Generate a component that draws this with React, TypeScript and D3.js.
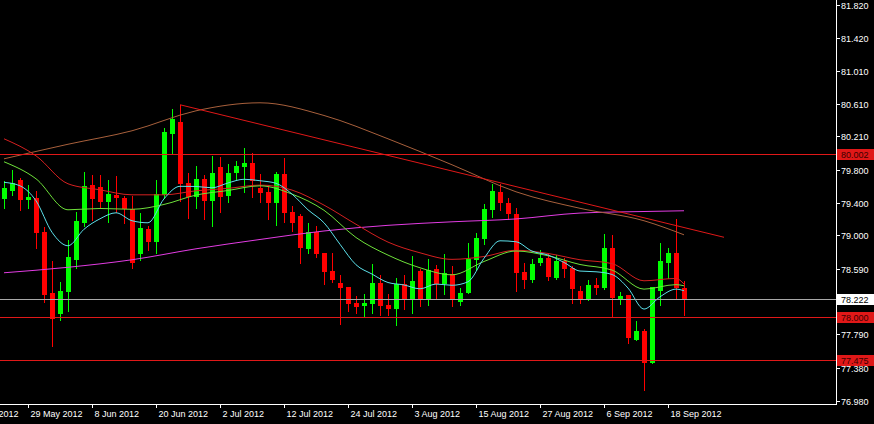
import React, { useEffect, useRef } from 'react';
import * as d3 from 'd3';

// daily bars, weekdays only, first bar on this day
const firstDay = '24 May 2012';

const open = [
  79.448, 79.546, 79.681, 79.436, 79.461, 79.045, 78.299, 78.043, 78.312, 78.703,
  79.155, 79.620, 79.595, 79.412, 79.497, 79.461, 79.326, 78.776, 79.082, 78.923,
  79.497, 80.243, 80.390, 79.644, 79.473, 79.693, 79.424, 79.840, 79.485, 79.766,
  79.840, 79.889, 79.583, 79.534, 79.400, 79.754, 79.290, 79.241, 78.837, 79.045,
  78.788, 78.568, 78.422, 78.373, 78.177, 78.140, 78.165, 78.422, 78.153, 78.104,
  78.409, 78.214, 78.568, 78.214, 78.593, 78.409, 78.532, 78.189, 78.299, 78.703,
  78.959, 79.314, 79.534, 79.400, 79.265, 78.556, 78.458, 78.666, 78.727, 78.483,
  78.691, 78.605, 78.324, 78.226, 78.397, 78.360, 78.849, 78.214, 78.275, 77.725,
  77.835, 77.444, 78.324, 78.666, 78.788, 78.360,
];
const high = [
  79.669, 79.803, 79.705, 79.620, 79.546, 79.106, 78.691, 78.434, 78.947, 79.290,
  79.779, 79.742, 79.742, 79.681, 79.730, 79.485, 79.485, 79.277, 79.118, 79.681,
  80.316, 80.549, 80.598, 79.766, 79.852, 79.742, 79.974, 79.962, 79.876, 79.913,
  80.072, 80.011, 79.754, 79.620, 79.779, 79.950, 79.363, 79.265, 79.155, 79.118,
  78.788, 78.788, 78.519, 78.373, 78.263, 78.287, 78.654, 78.519, 78.287, 78.483,
  78.519, 78.752, 78.593, 78.715, 78.642, 78.776, 78.629, 78.360, 78.911, 79.033,
  79.387, 79.632, 79.632, 79.461, 79.338, 78.666, 78.715, 78.825, 78.776, 78.764,
  78.727, 78.629, 78.385, 78.458, 78.483, 79.021, 79.008, 78.312, 78.275, 77.957,
  77.859, 78.373, 78.911, 78.849, 79.204, 78.446,
];
const low = [
  79.326, 79.485, 79.302, 79.326, 78.837, 78.177, 77.639, 77.957, 78.067, 78.593,
  79.106, 79.180, 79.338, 79.155, 79.277, 79.143, 78.593, 78.691, 78.813, 78.776,
  79.448, 79.999, 79.412, 79.204, 79.326, 79.192, 79.106, 79.277, 79.400, 79.669,
  79.522, 79.461, 79.400, 79.192, 79.118, 79.155, 79.045, 78.654, 78.776, 78.727,
  78.397, 78.422, 77.908, 78.067, 78.043, 77.994, 78.043, 78.018, 78.018, 77.896,
  78.092, 78.043, 78.128, 78.140, 78.226, 78.275, 78.128, 78.140, 78.287, 78.568,
  78.886, 79.216, 79.302, 79.192, 78.312, 78.348, 78.422, 78.629, 78.446, 78.458,
  78.483, 78.165, 78.165, 78.202, 78.275, 78.336, 77.994, 78.153, 77.676, 77.713,
  77.101, 77.431, 78.140, 78.470, 78.226, 78.018,
];
const close = [
  79.583, 79.644, 79.436, 79.473, 79.033, 78.275, 77.981, 78.324, 78.739, 79.180,
  79.607, 79.448, 79.412, 79.510, 79.461, 79.326, 78.666, 79.094, 78.923, 79.510,
  80.268, 80.426, 79.632, 79.473, 79.693, 79.424, 79.766, 79.473, 79.766, 79.852,
  79.889, 79.669, 79.522, 79.400, 79.754, 79.277, 79.155, 78.849, 79.045, 78.776,
  78.556, 78.458, 78.360, 78.165, 78.128, 78.177, 78.422, 78.140, 78.104, 78.409,
  78.214, 78.446, 78.226, 78.580, 78.409, 78.544, 78.226, 78.299, 78.715, 78.972,
  79.326, 79.546, 79.400, 79.265, 78.544, 78.458, 78.654, 78.727, 78.495, 78.691,
  78.593, 78.348, 78.226, 78.397, 78.360, 78.849, 78.238, 78.263, 77.749, 77.835,
  77.444, 78.373, 78.691, 78.788, 78.360, 78.222,
];

// moving averages; the last value always sits on the last bar
const maCyan = [ // every 2 bars
  79.650, 79.607, 79.424, 79.039, 78.874, 79.076, 79.204, 79.277, 79.180, 79.155,
  79.448, 79.601, 79.599, 79.583, 79.642, 79.687, 79.669, 79.638, 79.506, 79.314,
  79.155, 78.892, 78.642, 78.528, 78.425, 78.395, 78.348, 78.406, 78.391, 78.434,
  78.721, 78.935, 78.923, 78.809, 78.761, 78.670, 78.565, 78.556, 78.523, 78.357,
  78.100, 78.250, 78.344, 78.324,
];
const maGreen = [ // every 4 bars
  79.901, 79.693, 79.314, 79.330, 79.320, 79.379, 79.494, 79.550, 79.607, 79.506,
  79.308, 78.975, 78.760, 78.605, 78.519, 78.682, 78.810, 78.752, 78.645, 78.577,
  78.344, 78.399, 78.385,
];
const maRed = [ // every 4 bars
  80.182, 79.974, 79.632, 79.558, 79.497, 79.497, 79.546, 79.576, 79.616, 79.555,
  79.371, 79.137, 78.919, 78.788, 78.708, 78.743, 78.819, 78.780, 78.703, 78.656,
  78.446, 78.475, 78.406,
];
const maBrown = [ // every 8 bars
  79.937, 80.115, 80.280, 80.524, 80.622, 80.467, 80.182, 79.864, 79.534, 79.332,
  79.180, 79.008,
];
const maMagenta = [ // every 8 bars
  78.544, 78.611, 78.703, 78.837, 78.951, 79.055, 79.124, 79.167, 79.202, 79.274,
  79.293, 79.302,
];

const levelLines = [80.002, 78.0, 77.475];
const lastPrice = 78.222;
const priceTicks = [81.82, 81.42, 81.01, 80.61, 80.21, 79.8, 79.4, 79.0, 78.59, 77.79, 77.38, 76.98];
const dateTicks = [
  '17 May 2012', '29 May 2012', '8 Jun 2012', '20 Jun 2012', '2 Jul 2012', '12 Jul 2012',
  '24 Jul 2012', '3 Aug 2012', '15 Aug 2012', '27 Aug 2012', '6 Sep 2012', '18 Sep 2012',
];
const trendPoints = [
  { day: '25 Jun 2012', price: 80.598 },
  { day: '27 Sep 2012', price: 78.978 },
];

const W = 874;
const H = 424;
const FONT = '"Liberation Sans", Arial, sans-serif';

export default function App() {
  const svgRef = useRef<SVGSVGElement>(null);

  useEffect(() => {
    if (!svgRef.current) return;
    document.body.style.margin = '0';
    document.body.style.background = '#000';

    const svg = d3.select(svgRef.current);
    svg.selectAll('*').remove();

    const plotRight = 836;
    const plotBottom = 404;
    const n = close.length;

    const parse = d3.timeParse('%e %b %Y');
    const start = parse(firstDay) as Date;
    // signed count of weekdays from the first bar
    const barIndex = (s: string) => {
      const d = parse(s) as Date;
      const stepDir = d < start ? -1 : 1;
      const t = new Date(start);
      let i = 0;
      while (t.getTime() !== d.getTime()) {
        t.setDate(t.getDate() + stepDir);
        if (t.getDay() % 6 !== 0) i += stepDir;
      }
      return i;
    };

    const x = d3.scaleLinear().domain([0, n - 1]).range([4, 684]);
    const y = d3.scaleLinear().domain([76.98, 81.82]).range([400.7, 4.8]);

    svg.append('rect').attr('width', W).attr('height', H).attr('fill', '#000');

    svg.append('defs').append('clipPath').attr('id', 'plot')
      .append('rect').attr('x', 0).attr('y', 0).attr('width', plotRight).attr('height', plotBottom);

    const plot = svg.append('g').attr('clip-path', 'url(#plot)');

    // candles
    const bars = d3.range(n);
    const bull = '#00ff00';
    const bear = '#ff0000';
    const col = (i: number) => (close[i] >= open[i] ? bull : bear);
    const cg = plot.append('g').attr('shape-rendering', 'crispEdges');
    cg.selectAll('line.wick')
      .data(bars)
      .join('line')
      .attr('class', 'wick')
      .attr('x1', i => Math.round(x(i)) + 0.5)
      .attr('x2', i => Math.round(x(i)) + 0.5)
      .attr('y1', i => y(high[i]))
      .attr('y2', i => y(low[i]))
      .attr('stroke', col)
      .attr('stroke-width', 1);
    cg.selectAll('rect.body')
      .data(bars)
      .join('rect')
      .attr('class', 'body')
      .attr('x', i => Math.round(x(i)) - 2)
      .attr('width', 5)
      .attr('y', i => y(Math.max(open[i], close[i])))
      .attr('height', i => Math.max(1, Math.abs(y(open[i]) - y(close[i]))))
      .attr('fill', col);

    // moving averages
    const maLine = (vals: number[], step: number, color: string) => {
      const pts = vals.map((v, k) => [k === vals.length - 1 ? n - 1 : k * step, v] as [number, number]);
      const line = d3.line<[number, number]>()
        .x(d => x(d[0]))
        .y(d => y(d[1]))
        .curve(d3.curveMonotoneX);
      plot.append('path')
        .datum(pts)
        .attr('d', line)
        .attr('fill', 'none')
        .attr('stroke', color)
        .attr('stroke-width', 1);
    };
    maLine(maMagenta, 8, '#e23ce2');
    maLine(maBrown, 8, '#a8603c');
    maLine(maRed, 4, '#d42020');
    maLine(maGreen, 4, '#6ee03a');
    maLine(maCyan, 2, '#5ce0ea');

    // objects: trendline, horizontal levels, last price
    const lg = plot.append('g').attr('shape-rendering', 'crispEdges');
    levelLines.forEach(v => {
      const yy = Math.round(y(v)) + 0.5;
      lg.append('line')
        .attr('x1', 0).attr('x2', plotRight)
        .attr('y1', yy).attr('y2', yy)
        .attr('stroke', '#e01818');
    });
    const yl = Math.round(y(lastPrice)) + 0.5;
    lg.append('line')
      .attr('x1', 0).attr('x2', plotRight)
      .attr('y1', yl).attr('y2', yl)
      .attr('stroke', '#a8a8a8');

    plot.append('line')
      .attr('x1', x(barIndex(trendPoints[0].day)))
      .attr('y1', y(trendPoints[0].price))
      .attr('x2', x(barIndex(trendPoints[1].day)))
      .attr('y2', y(trendPoints[1].price))
      .attr('stroke', '#e01818')
      .attr('stroke-width', 1);

    // axes
    const ax = svg.append('g').attr('shape-rendering', 'crispEdges');
    ax.append('line')
      .attr('x1', plotRight + 0.5).attr('x2', plotRight + 0.5)
      .attr('y1', 0).attr('y2', plotBottom + 0.5)
      .attr('stroke', '#fff');
    ax.append('line')
      .attr('x1', 0).attr('x2', plotRight + 0.5)
      .attr('y1', plotBottom + 0.5).attr('y2', plotBottom + 0.5)
      .attr('stroke', '#fff');

    const fmt = d3.format('.3f');
    priceTicks.forEach(v => {
      const yy = Math.round(y(v)) + 0.5;
      ax.append('line')
        .attr('x1', plotRight).attr('x2', plotRight + 4)
        .attr('y1', yy).attr('y2', yy)
        .attr('stroke', '#fff');
      svg.append('text')
        .attr('x', 841).attr('y', yy + 3.5)
        .attr('fill', '#fff')
        .style('font-family', FONT)
        .style('font-size', '9px')
        .text(fmt(v));
    });

    dateTicks.forEach(s => {
      const xx = Math.round(x(barIndex(s))) + 0.5;
      ax.append('line')
        .attr('x1', xx).attr('x2', xx)
        .attr('y1', plotBottom).attr('y2', plotBottom + 4)
        .attr('stroke', '#fff');
      svg.append('text')
        .attr('x', xx + 2).attr('y', 417)
        .attr('fill', '#fff')
        .style('font-family', FONT)
        .style('font-size', '9px')
        .text(s);
    });

    // price labels of the objects on the right scale
    const tag = (v: number, bg: string, fg: string) => {
      const yy = Math.round(y(v));
      svg.append('rect')
        .attr('x', plotRight + 1).attr('y', yy - 5)
        .attr('width', W - plotRight - 1).attr('height', 11)
        .attr('fill', bg)
        .attr('shape-rendering', 'crispEdges');
      svg.append('text')
        .attr('x', 841).attr('y', yy + 4)
        .attr('fill', fg)
        .style('font-family', FONT)
        .style('font-size', '9px')
        .text(fmt(v));
    };
    levelLines.forEach(v => tag(v, '#e01818', '#3a0000'));
    tag(lastPrice, '#ffffff', '#000000');
  }, []);

  return (
    <svg
      ref={svgRef}
      width={W}
      height={H}
      style={{ position: 'fixed', left: 0, top: 0, display: 'block' }}
    />
  );
}
